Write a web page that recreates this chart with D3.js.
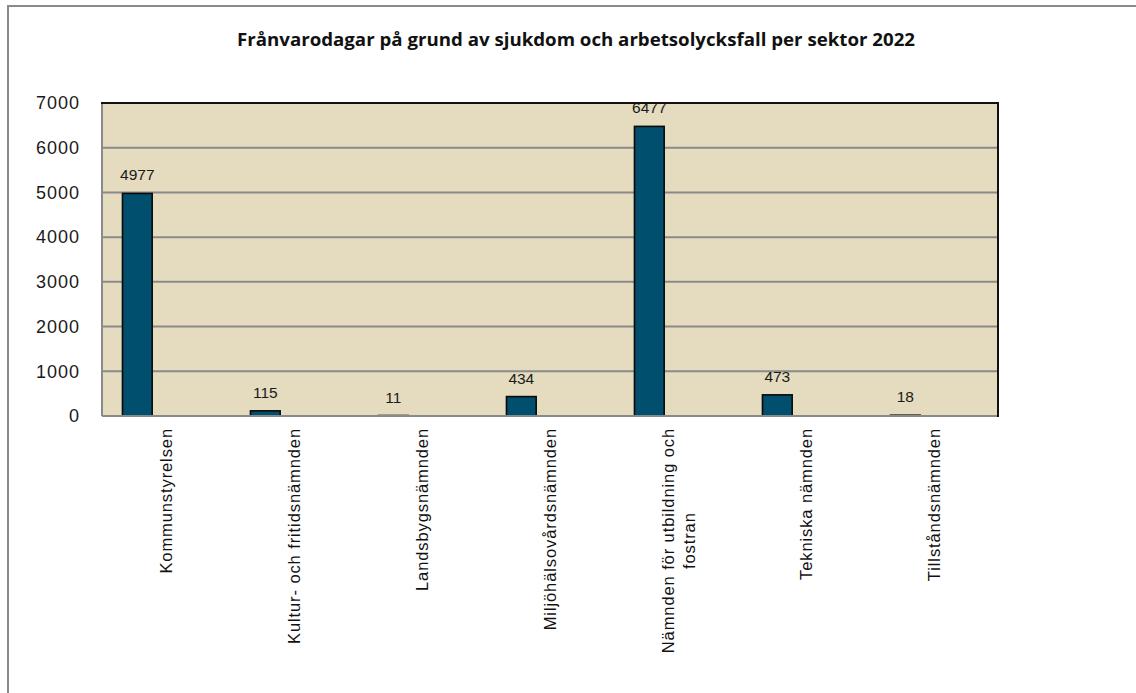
<!DOCTYPE html>
<html>
<head>
<meta charset="utf-8">
<script src="https://cdn.jsdelivr.net/npm/d3@7"></script>
<style>
  html, body { margin: 0; padding: 0; background: #ffffff; }
  svg { display: block; }
</style>
</head>
<body>
<svg id="chart" width="1136" height="693"></svg>
<script>
// Sick-leave and work-accident absence days per committee, 2022
const title = "Frånvarodagar på grund av sjukdom och arbetsolycksfall per sektor 2022";
const categories = [
  ["Kommunstyrelsen"],
  ["Kultur- och fritidsnämnden"],
  ["Landsbygsnämnden"],
  ["Miljöhälsovårdsnämnden"],
  ["Nämnden för utbildning och", "fostran"],
  ["Tekniska nämnden"],
  ["Tillståndsnämnden"]
];
const values = [4977, 115, 11, 434, 6477, 473, 18];
const yTicks = [0, 1000, 2000, 3000, 4000, 5000, 6000, 7000];

const svg = d3.select("#chart");
const W = 1136, H = 693;
const plot = { left: 102, top: 103, right: 998, bottom: 416 };

// Outer chart frame (left and top edges visible)
svg.append("path")
  .attr("d", `M8,${H + 5} L8,6 L${W + 5},6`)
  .attr("fill", "none")
  .attr("stroke", "#8a8a8a")
  .attr("stroke-width", 2);

// Title
svg.append("text")
  .attr("x", 576)
  .attr("y", 46)
  .attr("text-anchor", "middle")
  .attr("font-family", "'Open Sans', 'Noto Sans', sans-serif")
  .attr("font-weight", "bold")
  .attr("font-size", 17)
  .attr("textLength", 678)
  .attr("lengthAdjust", "spacingAndGlyphs")
  .attr("fill", "#111")
  .text(title);

const labelKeys = categories.map(c => c.join(" "));
const x = d3.scaleBand()
  .domain(labelKeys)
  .range([plot.left, plot.right])
  .paddingInner(0)
  .paddingOuter(0);

const y = d3.scaleLinear()
  .domain([0, 7000])
  .range([plot.bottom, plot.top]);

// Plot background
svg.append("rect")
  .attr("x", plot.left)
  .attr("y", plot.top)
  .attr("width", plot.right - plot.left)
  .attr("height", plot.bottom - plot.top)
  .attr("fill", "#e5dbbe");

// Horizontal gridlines
svg.append("g")
  .selectAll("line")
  .data(yTicks.filter(t => t > 0 && t < 7000))
  .join("line")
  .attr("x1", plot.left)
  .attr("x2", plot.right)
  .attr("y1", d => y(d))
  .attr("y2", d => y(d))
  .attr("stroke", "#8a8a8a")
  .attr("stroke-width", 2);

// Y axis tick labels
const yAxis = d3.axisLeft(y)
  .tickValues(yTicks)
  .tickSize(0)
  .tickPadding(22)
  .tickFormat(d3.format("d"));
const yg = svg.append("g")
  .attr("transform", `translate(${plot.left},0)`)
  .call(yAxis);
yg.select(".domain").remove();
yg.selectAll("text")
  .attr("font-family", "'Liberation Sans', Arial, sans-serif")
  .attr("font-size", 18)
  .attr("letter-spacing", 1)
  .attr("fill", "#1a1a1a");

// Bars (sit in the left part of each category slot)
const bw = x.bandwidth();
const barOffset = bw * 0.16;
const barWidth = bw * 0.232;
const rows = labelKeys.map((k, i) => ({ key: k, value: values[i] }));

svg.append("g")
  .selectAll("rect")
  .data(rows)
  .join("rect")
  .attr("x", d => x(d.key) + barOffset)
  .attr("y", d => y(d.value))
  .attr("width", barWidth)
  .attr("height", d => y(0) - y(d.value))
  .attr("fill", "#004f6e")
  .attr("stroke", "#0a0a0a")
  .attr("stroke-width", 1.6);

// Value labels above bars
svg.append("g")
  .selectAll("text")
  .data(rows)
  .join("text")
  .attr("x", d => x(d.key) + barOffset + barWidth / 2)
  .attr("y", d => y(d.value) - 13)
  .attr("text-anchor", "middle")
  .attr("font-family", "'Liberation Sans', Arial, sans-serif")
  .attr("font-size", 15.5)
  .attr("fill", "#1a1a1a")
  .text(d => d.value);

// Plot frame: light left/bottom, dark top/right
svg.append("line")
  .attr("x1", plot.left).attr("x2", plot.left)
  .attr("y1", plot.top).attr("y2", plot.bottom)
  .attr("stroke", "#8a8a8a").attr("stroke-width", 2);
svg.append("line")
  .attr("x1", plot.left).attr("x2", plot.right)
  .attr("y1", plot.bottom).attr("y2", plot.bottom)
  .attr("stroke", "#8a8a8a").attr("stroke-width", 2);
svg.append("line")
  .attr("x1", plot.left - 1).attr("x2", plot.right + 1)
  .attr("y1", plot.top).attr("y2", plot.top)
  .attr("stroke", "#111").attr("stroke-width", 2);
svg.append("line")
  .attr("x1", plot.right).attr("x2", plot.right)
  .attr("y1", plot.top).attr("y2", plot.bottom + 1)
  .attr("stroke", "#111").attr("stroke-width", 2);

// Rotated category labels, lines centred on each other, block ending just below the axis
const labelTop = 428;
const lineGap = 21;
const cat = svg.append("g")
  .selectAll("g")
  .data(categories)
  .join("g")
  .attr("transform", (d, i) => `translate(${x(labelKeys[i]) + bw / 2},${labelTop})`);

cat.each(function(lines) {
  const g = d3.select(this);
  const texts = lines.map((ln, j) => g.append("text")
    .attr("font-family", "'Liberation Sans', Arial, sans-serif")
    .attr("font-size", 16.5)
    .attr("letter-spacing", 0.9)
    .attr("fill", "#111")
    .attr("text-anchor", "middle")
    .attr("dominant-baseline", "central")
    .text(ln));
  const widths = texts.map(t => t.node().getComputedTextLength());
  const maxW = d3.max(widths);
  const n = lines.length;
  texts.forEach((t, j) => {
    const dx = (j - (n - 1) / 2) * lineGap;
    t.attr("transform", `translate(${dx},${maxW / 2}) rotate(-90)`);
  });
});
</script>
</body>
</html>
